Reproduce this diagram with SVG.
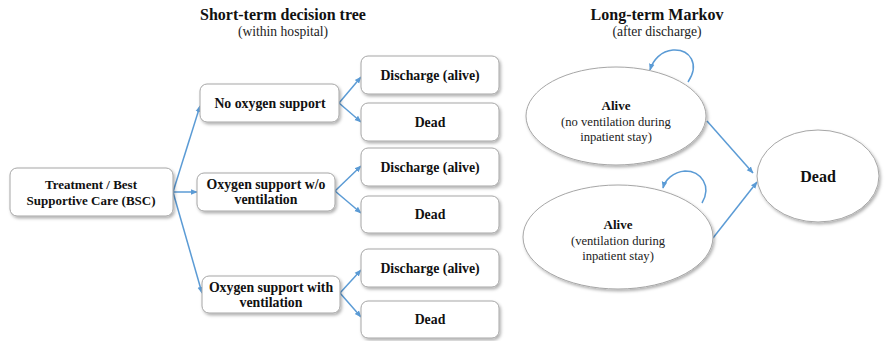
<svg xmlns="http://www.w3.org/2000/svg" width="886" height="341" viewBox="0 0 886 341">
<defs>
<filter id="sh" x="-10%" y="-10%" width="130%" height="140%">
<feDropShadow dx="1.5" dy="2" stdDeviation="1.5" flood-color="#000" flood-opacity="0.3"/>
</filter>
<marker id="ah" viewBox="0 0 10 10" refX="9" refY="5" markerWidth="7" markerHeight="7" orient="auto" markerUnits="userSpaceOnUse">
<path d="M0,1 L10,5 L0,9 Z" fill="#5b9bd5"/>
</marker>
<style>
text{font-family:'Liberation Serif',serif;text-anchor:middle}
.box{fill:#fff;stroke:#a6a6a6;stroke-width:1;filter:url(#sh)}
.ell{fill:#fff;stroke:#a6a6a6;stroke-width:1;filter:url(#sh)}
.t{font-size:13.8px;font-weight:bold;fill:#111}
.r{font-size:12.6px;fill:#222}
.s{font-size:13.6px;fill:#222}
.h{font-size:16px;font-weight:bold;fill:#111}
.c{fill:none;stroke:#5b9bd5;stroke-width:1.5;marker-end:url(#ah)}
</style>
</defs>
<rect width="886" height="341" fill="#fff"/>
<g id="titles">
<text class="h" x="283" y="20">Short-term decision tree</text>
<text class="s" x="283" y="36">(within hospital)</text>
<text class="h" x="657" y="20">Long-term Markov</text>
<text class="s" x="657" y="36">(after discharge)</text>
</g>
<g id="connectors">
<line class="c" x1="173" y1="192" x2="200" y2="106"/>
<line class="c" x1="173" y1="192" x2="197" y2="192"/>
<line class="c" x1="173" y1="192" x2="202" y2="293"/>
<line class="c" x1="339" y1="103" x2="361" y2="77"/>
<line class="c" x1="339" y1="103" x2="361" y2="122"/>
<line class="c" x1="335" y1="191" x2="361" y2="166"/>
<line class="c" x1="335" y1="191" x2="361" y2="213"/>
<line class="c" x1="340" y1="293" x2="361" y2="270"/>
<line class="c" x1="340" y1="293" x2="361" y2="317"/>
<path class="c" d="M688,82 C700,64 690,49 673,50 C661,51 653,60 650,70"/>
<path class="c" d="M702,203 C712,186 701,171 685,171 C673,172 665,180 663,188"/>
<line class="c" x1="707" y1="121" x2="753" y2="173"/>
<line class="c" x1="713" y1="238" x2="757" y2="182"/>
</g>
<g id="n-treatment">
<rect class="box" x="10" y="168" width="163" height="48" rx="7"/>
<text class="t" x="91" y="189" style="font-size:13px">Treatment / Best</text>
<text class="t" x="91" y="205" style="font-size:13px">Supportive Care (BSC)</text>
</g>
<g id="n-noox">
<rect class="box" x="200" y="84" width="139" height="38" rx="7"/>
<text class="t" x="270" y="108">No oxygen support</text>
</g>
<g id="n-oxwo">
<rect class="box" x="197" y="173" width="138" height="38" rx="7"/>
<text class="t" x="266" y="189">Oxygen support w/o</text>
<text class="t" x="266" y="204">ventilation</text>
</g>
<g id="n-oxwith">
<rect class="box" x="202" y="276" width="138" height="37" rx="7"/>
<text class="t" x="271" y="292">Oxygen support with</text>
<text class="t" x="271" y="307">ventilation</text>
</g>
<g id="n-d1">
<rect class="box" x="361" y="56" width="138" height="38" rx="7"/>
<text class="t" x="430" y="80">Discharge (alive)</text>
</g>
<g id="n-x1">
<rect class="box" x="361" y="103" width="138" height="38" rx="7"/>
<text class="t" x="430" y="127">Dead</text>
</g>
<g id="n-d2">
<rect class="box" x="361" y="148" width="138" height="38" rx="7"/>
<text class="t" x="430" y="172">Discharge (alive)</text>
</g>
<g id="n-x2">
<rect class="box" x="361" y="196" width="138" height="37" rx="7"/>
<text class="t" x="430" y="219">Dead</text>
</g>
<g id="n-d3">
<rect class="box" x="361" y="249" width="138" height="38" rx="7"/>
<text class="t" x="430" y="273">Discharge (alive)</text>
</g>
<g id="n-x3">
<rect class="box" x="361" y="301" width="138" height="37" rx="7"/>
<text class="t" x="430" y="324">Dead</text>
</g>
<g id="n-alive1">
<ellipse class="ell" cx="616" cy="116" rx="90" ry="49"/>
<text class="t" x="616" y="110" style="font-size:13px">Alive</text>
<text class="r" x="616" y="126">(no ventilation during</text>
<text class="r" x="616" y="141">inpatient stay)</text>
</g>
<g id="n-alive2">
<ellipse class="ell" cx="618" cy="237" rx="95" ry="52"/>
<text class="t" x="618" y="229" style="font-size:13px">Alive</text>
<text class="r" x="618" y="245">(ventilation during</text>
<text class="r" x="618" y="260">inpatient stay)</text>
</g>
<g id="n-dead">
<ellipse class="ell" cx="818" cy="176" rx="61" ry="46"/>
<text class="t" x="818" y="182" style="font-size:16px">Dead</text>
</g>
</svg>
